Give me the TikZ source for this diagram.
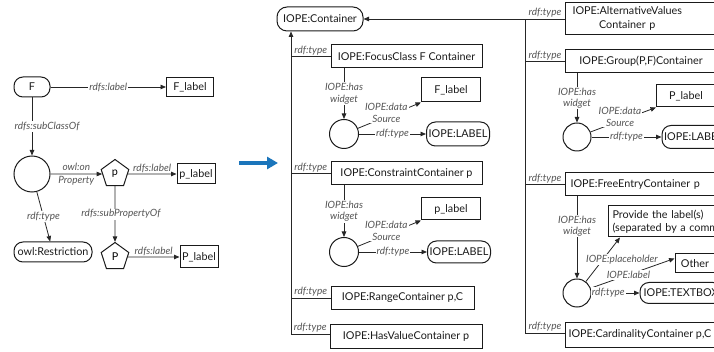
\documentclass[tikz,border=0pt]{standalone}
\usepackage{fontspec}
\setmainfont{Lato}
\usetikzlibrary{shapes.geometric,arrows.meta}
\definecolor{edgegray}{HTML}{555555}
\definecolor{linec}{HTML}{262626}
\definecolor{boxc}{HTML}{1A1A1A}
\definecolor{blueA}{HTML}{1B75BB}
\begin{document}
\begin{tikzpicture}[x=1pt,y=-1pt,
  box/.style={draw=boxc, line width=1pt, inner sep=2pt, text=boxc, font=\fontsize{10.8}{12}\selectfont},
  rbox/.style={box, rounded corners=9pt},
  circ/.style={circle, draw=boxc, line width=1pt, inner sep=0pt},
  pent/.style={regular polygon, regular polygon sides=5, draw=boxc, line width=1pt, minimum size=29pt, inner sep=0pt, font=\fontsize{10.8}{12}\selectfont},
  lbl/.style={font=\fontsize{10}{11.5}\selectfont\itshape, text=edgegray, inner sep=1pt},
  wl/.style={lbl, fill=white},
  conn/.style={draw=linec, line width=0.8pt},
  arr/.style={conn, -{Triangle[length=5.5pt,width=4.5pt]}},
]
\useasboundingbox (0,0) rectangle (714,352);
\clip (0,0) rectangle (714,352);

% ---------- left part ----------
\node[rbox, minimum width=36pt, minimum height=20pt] (F) at (32,87) {F};
\node[box, minimum width=47pt, minimum height=19pt] (Fl) at (190,87) {F\_label};
\draw[arr] (F) -- node[wl] {rdfs:label} (Fl);
\node[circ, minimum size=36pt] (c0) at (32,174) {};
\draw[arr] (F) -- node[wl, xshift=15pt] {rdfs:subClassOf} (c0);
\node[rbox, minimum width=78pt, minimum height=20pt] (Rs) at (53,252) {owl:Restriction};
\draw[arr] (c0) -- node[wl] {rdf:type} (Rs);
\node[pent] (p) at (115,174) {p};
\draw[arr] (c0) -- node[lbl, align=center, font=\fontsize{10}{12.5}\selectfont\itshape] {owl:on\\Property} (p);
\node[box, minimum width=38pt, minimum height=20pt] (pl) at (196,174) {p\_label};
\draw[arr] (p) -- node[lbl, above] {rdfs:label} (pl);
\node[pent] (P) at (115,257) {P};
\draw[arr] (p) -- node[wl, xshift=6pt] {rdfs:subPropertyOf} (P);
\node[box, minimum width=38pt, minimum height=22pt] (Pl) at (199,257) {P\_label};
\draw[arr] (P) -- node[lbl, above] {rdfs:label} (Pl);

% ---------- blue arrow ----------
\coordinate (ba) at (239,163);
\coordinate (bb) at (278,163);
\draw[line width=4pt, draw=blueA, -{Triangle[length=11pt,width=12pt]}] (ba) -- (bb);

% ---------- middle column ----------
\node[rbox, rounded corners=10pt, minimum width=86pt, minimum height=24pt] (C) at (320,19) {IOPE:Container};
\coordinate (t1) at (291,334);
\draw[arr] (t1) -- (t1 |- C.south);

\node[box, minimum width=151pt, minimum height=23pt] (FC) at (406.5,56.5) {IOPE:FocusClass F Container};
\draw[conn] (t1 |- FC.west) -- node[lbl, above] {rdf:type} (FC.west);
\node[circ, minimum size=29pt] (c1) at (344,134) {};
\draw[arr] (FC.south -| c1) -- node[wl, align=center] {IOPE:has\\widget} (c1);
\node[box, minimum width=59pt, minimum height=24pt] (Fl2) at (451,90) {F\_label};
\draw[arr] (c1) -- node[wl, align=center, pos=0.45, yshift=4pt] {IOPE:data\\Source} (Fl2.south west);
\node[rbox, minimum width=63pt, minimum height=24pt] (L1) at (458,134) {IOPE:LABEL};
\draw[arr] (c1) -- node[wl] {rdf:type} (L1);

\node[box, minimum width=151pt, minimum height=23pt] (CC) at (406.5,173.5) {IOPE:ConstraintContainer p};
\draw[conn] (t1 |- CC.west) -- node[lbl, above] {rdf:type} (CC.west);
\node[circ, minimum size=29pt] (c2) at (344,252) {};
\draw[arr] (CC.south -| c2) -- node[wl, align=center] {IOPE:has\\widget} (c2);
\node[box, minimum width=59pt, minimum height=22pt] (pl2) at (451,209) {p\_label};
\draw[arr] (c2) -- node[wl, align=center, pos=0.45, yshift=4pt] {IOPE:data\\Source} (pl2.south west);
\node[rbox, minimum width=63pt, minimum height=22pt] (L2) at (459,252) {IOPE:LABEL};
\draw[arr] (c2) -- node[wl] {rdf:type} (L2);

\node[box, minimum width=143pt, minimum height=22pt] (RC) at (402.5,298) {IOPE:RangeContainer p,C};
\draw[conn] (t1 |- RC.west) -- node[lbl, above] {rdf:type} (RC.west);
\node[box, minimum width=152pt, minimum height=24pt] (HC) at (406,336) {IOPE:HasValueContainer p};
\draw[conn] (t1) -- node[lbl, above] {rdf:type} (t1 -| HC.west);

% ---------- right column ----------
\coordinate (t2) at (525,19);
\coordinate (t2b) at (525,333);
\draw[conn] (t2b) -- (t2);
\draw[arr] (t2) -- (C.east);

\node[box, anchor=west, minimum height=32pt, text width=137pt, align=left, inner xsep=7pt, font=\fontsize{10.8}{14}\selectfont] (AV) at (565,19) {\begin{tabular}{@{}c@{}}IOPE:AlternativeValues\\Container p\end{tabular}};
\draw[conn] (t2) -- node[lbl, above] {rdf:type} (AV.west);

\node[box, anchor=west, minimum width=151pt, minimum height=23pt] (GC) at (565,61.5) {IOPE:Group(P,F)Container};
\draw[conn] (t2 |- GC.west) -- node[lbl, above] {rdf:type} (GC.west);
\node[circ, minimum size=28pt] (c3) at (577,137) {};
\draw[arr] (GC.south -| c3) -- node[wl, align=center] {IOPE:has\\widget} (c3);
\node[box, minimum width=59pt, minimum height=22pt] (Pl3) at (686,96) {P\_label};
\draw[arr] (c3) -- node[wl, align=center, pos=0.45, yshift=4pt] {IOPE:data\\Source} (Pl3.south west);
\node[rbox, minimum width=63pt, minimum height=23pt] (L3) at (693.5,137) {IOPE:LABEL};
\draw[arr] (c3) -- node[wl] {rdf:type} (L3);

\node[box, anchor=west, minimum height=23pt, text width=141pt, align=left, inner xsep=5pt] (FE) at (565,184.5) {IOPE:FreeEntryContainer p};
\draw[conn] (t2 |- FE.west) -- node[lbl, above] {rdf:type} (FE.west);
\node[circ, minimum size=28pt] (c4) at (577,293) {};
\draw[arr] (FE.south -| c4) -- node[wl, align=center, pos=0.36] {IOPE:has\\widget} (c4);
\node[box, anchor=west, minimum height=31pt, text width=150pt, align=left, inner xsep=4pt, font=\fontsize{10.8}{13}\selectfont] (PV) at (608,221.5) {Provide the label(s)\\(separated by a comma)};
\draw[arr] (c4) -- node[wl, xshift=19pt] {IOPE:placeholder} ([xshift=12pt]PV.south west);
\node[box, minimum width=40pt, minimum height=19pt] (OT) at (695,263.5) {Other};
\draw[arr] (c4) -- node[wl, pos=0.45] {IOPE:label} ([yshift=5pt]OT.west);
\node[rbox, minimum width=82pt, minimum height=21pt] (TB) at (681,293) {IOPE:TEXTBOX};
\draw[arr] (c4) -- node[wl, pos=0.35] {rdf:type} (TB);

\node[box, anchor=west, inner xsep=3pt, minimum height=25pt] (CA) at (565,334.5) {IOPE:CardinalityContainer p,C};
\draw[conn] (t2b) -- node[lbl, above] {rdf:type} (t2b -| CA.west);
\end{tikzpicture}
\end{document}
